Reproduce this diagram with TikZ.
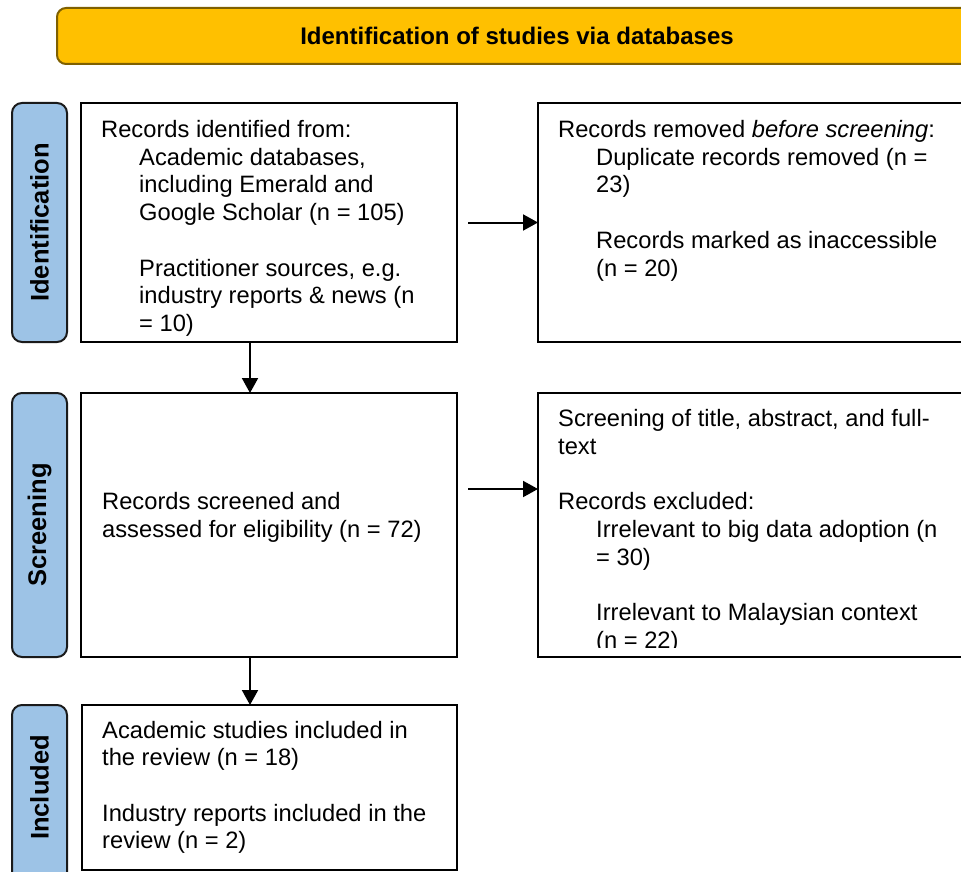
\documentclass[tikz,border=0pt]{standalone}
\usepackage{fontspec}
\setmainfont{Liberation Sans}
\usetikzlibrary{arrows.meta}
\definecolor{bannerfill}{HTML}{FFC000}
\definecolor{bannerdraw}{HTML}{7F6000}
\definecolor{labelfill}{HTML}{9DC3E6}
\definecolor{labeldraw}{HTML}{1A1A1A}
\tikzset{
  box/.style={draw=black, line width=2pt, fill=white, rectangle, inner sep=0pt, outer sep=0pt},
  banner/.style={draw=bannerdraw, line width=2pt, fill=bannerfill, rounded corners=9pt, inner sep=0pt, outer sep=0pt},
  phase/.style={draw=labeldraw, line width=2pt, fill=labelfill, rounded corners=10pt, inner sep=0pt, outer sep=0pt},
  phasetext/.style={rotate=90, font=\fontsize{25.5}{28}\selectfont\bfseries, inner sep=0pt},
  bodytext/.style={anchor=north west, align=left, inner sep=0pt, font=\fontsize{23.7}{27.7}\selectfont},
  arr/.style={line width=2pt, -{Triangle[length=15pt,width=16pt]}}
}
\newcommand{\ind}{\hspace*{38pt}}
\begin{document}
\begin{tikzpicture}[x=1pt,y=-1pt]
\useasboundingbox (0,0) rectangle (961,872);
\clip (0,0) rectangle (961,872);
% banner
\node[banner, minimum width=920pt, minimum height=56pt] (banner) at (517,36) {};
\node[font=\fontsize{24}{27.7}\selectfont\bfseries, inner sep=0pt] (bannertext) at (banner.center) {Identification of studies via databases};
% phase labels
\node[phase, minimum width=55pt, minimum height=239pt] (lab1) at (39.5,222.5) {};
\node[phasetext] (lab1t) at (lab1.center) {Identification};
\node[phase, minimum width=55pt, minimum height=264pt] (lab2) at (39.5,525) {};
\node[phasetext] (lab2t) at (lab2.center) {Screening};
\node[phase, minimum width=55pt, minimum height=180pt] (lab3) at (39.5,795) {};
\node[phasetext] (lab3t) at (39.5,787.5) {Included};
% boxes
\node[box, minimum width=376pt, minimum height=239pt] (box1) at (269,222.5) {};
\node[box, minimum width=437pt, minimum height=239pt] (rbox1) at (756.5,222.5) {};
\node[box, minimum width=376pt, minimum height=264pt] (box2) at (269,525) {};
\node[box, minimum width=437pt, minimum height=264pt] (rbox2) at (756.5,525) {};
\node[box, minimum width=375pt, minimum height=165pt] (box3) at (269.5,787.5) {};
% texts
\node[bodytext] (t1) at (101,118) {\strut Records identified from:\\
\ind Academic databases,\\
\ind including Emerald and\\
\ind Google Scholar (n = 105)\\[27.7pt]
\ind Practitioner sources, e.g.\\
\ind industry reports \& news (n\\
\ind = 10)};
\node[bodytext] (t2) at (558,118) {\strut Records removed \textit{before screening}:\\
\ind Duplicate records removed (n =\\
\ind 23)\\[27.7pt]
\ind Records marked as inaccessible\\
\ind (n = 20)};
\node[bodytext] (t3) at (102,490) {\strut Records screened and\\
assessed for eligibility (n = 72)};
\begin{scope}
\clip (538,393) rectangle (961,647);
\node[bodytext] (t4) at (558,407) {\strut Screening of title, abstract, and full-\\
text\\[27.7pt]
Records excluded:\\
\ind Irrelevant to big data adoption (n\\
\ind = 30)\\[27.7pt]
\ind Irrelevant to Malaysian context\\
\ind (n = 22)};
\end{scope}
\node[bodytext] (t5) at (102,718.5) {\strut Academic studies included in\\
the review (n = 18)\\[27.7pt]
Industry reports included in the\\
review (n = 2)};
% connectors
\coordinate (h1) at (468,222.5);
\draw[arr] (h1) -- (h1 -| rbox1.west);
\coordinate (h2) at (468,489);
\draw[arr] (h2) -- (h2 -| rbox2.west);
\coordinate (d1) at (250,342);
\draw[arr] (d1) -- (d1 |- box2.north);
\coordinate (d2) at (250,657);
\draw[arr] (d2) -- (d2 |- box3.north);
\end{tikzpicture}
\end{document}
